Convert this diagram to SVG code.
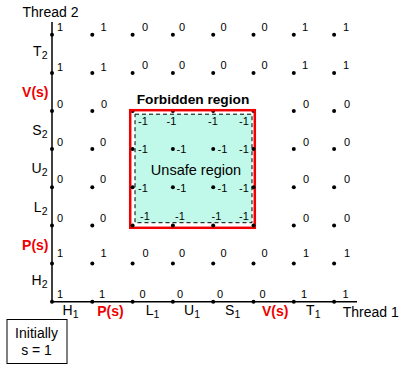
<svg xmlns="http://www.w3.org/2000/svg" width="406" height="371" viewBox="0 0 406 371">
<style>
text{font-family:"Liberation Sans",Arial,sans-serif;fill:#000}
.v{font-size:11px}
.lab{font-size:14px}
.sub{font-size:10.5px}
.red{fill:#f00000;font-weight:bold;font-size:14px}
.dot{fill:#000}
</style>
<rect width="406" height="371" fill="#fff"/>
<g id="axes" stroke="#000" stroke-width="1.5" fill="none">
<line x1="52" y1="22" x2="52" y2="302"/>
<line x1="51.3" y1="301.7" x2="357" y2="301.7"/>
</g>
<g id="dots" class="dot">
<g id="r7"><circle cx="52" cy="34.7" r="2"/><circle cx="92.3" cy="34.7" r="2"/><circle cx="132.6" cy="34.7" r="2"/><circle cx="172.9" cy="34.7" r="2"/><circle cx="213.2" cy="34.7" r="2"/><circle cx="253.5" cy="34.7" r="2"/><circle cx="293.8" cy="34.7" r="2"/><circle cx="334.1" cy="34.7" r="2"/></g>
<g id="r6"><circle cx="52" cy="72.9" r="2"/><circle cx="92.3" cy="72.9" r="2"/><circle cx="132.6" cy="72.9" r="2"/><circle cx="172.9" cy="72.9" r="2"/><circle cx="213.2" cy="72.9" r="2"/><circle cx="253.5" cy="72.9" r="2"/><circle cx="293.8" cy="72.9" r="2"/><circle cx="334.1" cy="72.9" r="2"/></g>
<g id="r5"><circle cx="52" cy="111" r="2"/><circle cx="92.3" cy="111" r="2"/><circle cx="132.6" cy="111" r="2"/><circle cx="172.9" cy="111" r="2"/><circle cx="213.2" cy="111" r="2"/><circle cx="253.5" cy="111" r="2"/><circle cx="293.8" cy="111" r="2"/><circle cx="334.1" cy="111" r="2"/></g>
<g id="r4"><circle cx="52" cy="149.1" r="2"/><circle cx="92.3" cy="149.1" r="2"/><circle cx="293.8" cy="149.1" r="2"/><circle cx="334.1" cy="149.1" r="2"/></g>
<g id="r3"><circle cx="52" cy="187.3" r="2"/><circle cx="92.3" cy="187.3" r="2"/><circle cx="293.8" cy="187.3" r="2"/><circle cx="334.1" cy="187.3" r="2"/></g>
<g id="r2"><circle cx="52" cy="225.4" r="2"/><circle cx="92.3" cy="225.4" r="2"/><circle cx="293.8" cy="225.4" r="2"/><circle cx="334.1" cy="225.4" r="2"/></g>
<g id="r1"><circle cx="52" cy="263.6" r="2"/><circle cx="92.3" cy="263.6" r="2"/><circle cx="132.6" cy="263.6" r="2"/><circle cx="172.9" cy="263.6" r="2"/><circle cx="213.2" cy="263.6" r="2"/><circle cx="253.5" cy="263.6" r="2"/><circle cx="293.8" cy="263.6" r="2"/><circle cx="334.1" cy="263.6" r="2"/></g>
<g id="r0"><circle cx="52" cy="301.7" r="2"/><circle cx="92.3" cy="301.7" r="2"/><circle cx="132.6" cy="301.7" r="2"/><circle cx="172.9" cy="301.7" r="2"/><circle cx="213.2" cy="301.7" r="2"/><circle cx="253.5" cy="301.7" r="2"/><circle cx="293.8" cy="301.7" r="2"/><circle cx="334.1" cy="301.7" r="2"/></g>
</g>
<g id="forbidden">
<rect x="130.2" y="110.2" width="124.6" height="117.6" fill="none" stroke="#f00000" stroke-width="2.5"/>
<rect x="135" y="114.2" width="117" height="108.5" fill="#c0f9e9" stroke="#000" stroke-width="1" stroke-dasharray="4,3"/>
<circle cx="132.6" cy="149.1" r="2"/><circle cx="172.9" cy="149.1" r="2"/><circle cx="213.2" cy="149.1" r="2"/><circle cx="253.5" cy="149.1" r="2"/>
<circle cx="132.6" cy="187.3" r="2"/><circle cx="172.9" cy="187.3" r="2"/><circle cx="213.2" cy="187.3" r="2"/><circle cx="253.5" cy="187.3" r="2"/>
<circle cx="132.6" cy="225.4" r="2"/><circle cx="172.9" cy="225.4" r="2"/><circle cx="213.2" cy="225.4" r="2"/><circle cx="253.5" cy="225.4" r="2"/>
<text x="193" y="103.5" text-anchor="middle" style="font-size:13.7px;font-weight:bold">Forbidden region</text>
<text x="196" y="175" text-anchor="middle" style="font-size:14.5px">Unsafe region</text>
<g class="v">
<text x="138" y="124.5">-1</text><text x="166.5" y="124.5">-1</text><text x="208" y="124.5">-1</text><text x="239" y="124.5">-1</text>
<text x="138" y="153">-1</text><text x="176.5" y="153">-1</text><text x="217.5" y="153">-1</text><text x="239" y="153">-1</text>
<text x="138" y="191.5">-1</text><text x="176.5" y="191.5">-1</text><text x="217.5" y="191.5">-1</text><text x="239" y="191.5">-1</text>
<text x="140" y="219.5">-1</text><text x="175" y="219.5">-1</text><text x="211.5" y="219.5">-1</text><text x="239" y="219.5">-1</text>
</g>
</g>
<g id="values" class="v">
<text x="57" y="30.5">1</text><text x="100.5" y="30.5">1</text><text x="142" y="30.5">0</text><text x="179" y="30.5">0</text><text x="220.5" y="30.5">0</text><text x="261.5" y="30.5">0</text><text x="302" y="30.5">1</text><text x="343" y="30.5">1</text>
<text x="57" y="70.5">1</text><text x="100.5" y="70.5">1</text><text x="142" y="69">0</text><text x="179" y="69">0</text><text x="220.5" y="69">0</text><text x="261.5" y="69">0</text><text x="302" y="69">1</text><text x="343" y="69">1</text>
<text x="57" y="108">0</text><text x="101" y="108">0</text><text x="303" y="108">0</text><text x="344" y="108">0</text>
<text x="57" y="146">0</text><text x="100" y="146">0</text><text x="303" y="146">0</text><text x="344" y="146">0</text>
<text x="57" y="182.5">0</text><text x="100" y="182.5">0</text><text x="303" y="182.5">0</text><text x="344" y="182.5">0</text>
<text x="57" y="221.7">0</text><text x="100" y="221.7">0</text><text x="303" y="221.7">0</text><text x="344" y="221.7">0</text>
<text x="57" y="257">1</text><text x="100.5" y="257">1</text><text x="142.5" y="257">0</text><text x="179" y="257">0</text><text x="220.5" y="257">0</text><text x="261.5" y="257">0</text><text x="303" y="257">1</text><text x="344" y="257">1</text>
<text x="57" y="297.5">1</text><text x="99" y="297.5">1</text><text x="139.5" y="297.5">0</text><text x="177" y="297.5">0</text><text x="217" y="297.5">0</text><text x="259.5" y="297.5">0</text><text x="301" y="297.5">1</text><text x="342.5" y="297.5">1</text>
</g>
<g id="thread2-labels" class="lab" text-anchor="end">
<text x="22.5" y="16.7" text-anchor="start">Thread 2</text>
<text x="47.5" y="56">T<tspan class="sub" dy="3">2</tspan></text>
<text x="48.5" y="97" class="red">V(s)</text>
<text x="47.5" y="135">S<tspan class="sub" dy="3">2</tspan></text>
<text x="47.5" y="173">U<tspan class="sub" dy="3">2</tspan></text>
<text x="47.5" y="211.5">L<tspan class="sub" dy="3">2</tspan></text>
<text x="48.5" y="249.5" class="red">P(s)</text>
<text x="47.5" y="285">H<tspan class="sub" dy="3">2</tspan></text>
</g>
<g id="thread1-labels" class="lab" text-anchor="middle">
<text x="70.5" y="315">H<tspan class="sub" dy="3">1</tspan></text>
<text x="110.5" y="316" class="red">P(s)</text>
<text x="152.5" y="315">L<tspan class="sub" dy="3">1</tspan></text>
<text x="192" y="315">U<tspan class="sub" dy="3">1</tspan></text>
<text x="232.7" y="315">S<tspan class="sub" dy="3">1</tspan></text>
<text x="275.2" y="316" class="red">V(s)</text>
<text x="313.3" y="315">T<tspan class="sub" dy="3">1</tspan></text>
<text x="342.7" y="317.3" text-anchor="start">Thread 1</text>
</g>
<g id="initially">
<rect x="7" y="319.5" width="60" height="44" fill="#fff" stroke="#000" stroke-width="1"/>
<text x="36.5" y="337.5" text-anchor="middle" class="lab">Initially</text>
<text x="36.5" y="354.5" text-anchor="middle" class="lab">s = 1</text>
</g>
</svg>
